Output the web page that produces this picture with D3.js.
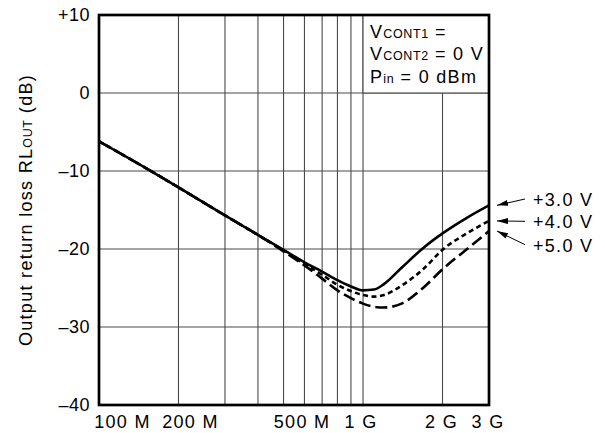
<!DOCTYPE html>
<html>
<head>
<meta charset="utf-8">
<script src="https://cdn.jsdelivr.net/npm/d3@7"></script>
<style>
  html, body { margin: 0; padding: 0; background: #fff; }
  svg { display: block; }
  text { font-family: "Liberation Sans", Arial, Helvetica, sans-serif; fill: #000; }
</style>
</head>
<body>
<svg id="chart" width="605" height="433"></svg>
<script>
// ---- data ----
const freqMHz = [100, 150, 200, 300, 400, 500, 600, 700, 800, 900, 1000, 1100, 1200, 1400, 1700, 2000, 2500, 3000];
const rl3V = [-6.2, -9.6, -12.1, -15.7, -18.2, -20.1, -21.7, -22.9, -24.0, -24.8, -25.3, -25.2, -24.5, -22.4, -19.8, -18.0, -15.9, -14.4];
const rl4V = [-6.2, -9.6, -12.1, -15.7, -18.2, -20.2, -21.9, -23.3, -24.6, -25.4, -25.9, -26.1, -25.9, -24.7, -22.5, -20.1, -17.9, -16.4];
const rl5V = [-6.2, -9.6, -12.1, -15.7, -18.2, -20.3, -22.1, -23.8, -25.3, -26.3, -27.0, -27.4, -27.5, -27.0, -24.9, -22.6, -19.9, -17.7];
const seriesLabels = ["+3.0 V", "+4.0 V", "+5.0 V"];
const xTickValues = [100, 200, 500, 1000, 2000, 3000];
const xTickLabels = ["100 M", "200 M", "500 M", "1 G", "2 G", "3 G"];
const xGridValues = [200, 300, 400, 500, 600, 700, 800, 900, 1000, 2000];
const yTickValues = [10, 0, -10, -20, -30, -40];
const yTickLabels = ["+10", "0", "\u201310", "\u201320", "\u201330", "\u201340"];

(function () {
// ---- layout ----
const svg = d3.select("#chart");
const pL = 99, pR = 489, pT = 15, pB = 405;
const x = d3.scaleLog().domain([100, 3000]).range([pL, pR]);
const y = d3.scaleLinear().domain([-40, 10]).range([pB, pT]);
const FS = 18, LS = "1.3px";

// grid
const grid = svg.append("g").attr("stroke", "#4a4a4a").attr("stroke-width", 1.1);
xGridValues.forEach(v => {
  grid.append("line").attr("x1", x(v)).attr("x2", x(v)).attr("y1", pT).attr("y2", pB);
});
yTickValues.slice(1, -1).forEach(v => {
  grid.append("line").attr("x1", pL).attr("x2", pR).attr("y1", y(v)).attr("y2", y(v));
});

// condition box (white area between 1G and right edge above 0 dB)
svg.append("rect")
  .attr("x", x(1000)).attr("y", pT)
  .attr("width", x(3000) - x(1000)).attr("height", y(0) - pT)
  .attr("fill", "#fff").attr("stroke", "#4a4a4a").attr("stroke-width", 1.1);

const box = svg.append("g").attr("font-size", FS).attr("letter-spacing", LS);
const l1 = box.append("text").attr("x", 370).attr("y", 38);
l1.append("tspan").text("V");
l1.append("tspan").attr("font-size", 12.5).attr("letter-spacing", "0.6px").text("CONT1");
l1.append("tspan").text(" =");
const l2 = box.append("text").attr("x", 370).attr("y", 60);
l2.append("tspan").text("V");
l2.append("tspan").attr("font-size", 12.5).attr("letter-spacing", "0.6px").text("CONT2");
l2.append("tspan").text(" = 0 V");
const l3 = box.append("text").attr("x", 370).attr("y", 82.5);
l3.append("tspan").text("P");
l3.append("tspan").attr("font-size", 12.5).attr("letter-spacing", "0.6px").text("in");
l3.append("tspan").text(" = 0 dBm");

// curves
const clip = svg.append("clipPath").attr("id", "clip");
clip.append("rect").attr("x", pL).attr("y", pT).attr("width", pR - pL).attr("height", pB - pT);
const line = d3.line().x(d => x(d[0])).y(d => y(d[1])).curve(d3.curveMonotoneX);
const series = [rl3V, rl4V, rl5V];
const dashes = [null, "5,3.5", "12,5"];
const curves = svg.append("g").attr("clip-path", "url(#clip)");
[2, 1, 0].forEach(i => {
  curves.append("path")
    .datum(freqMHz.map((f, k) => [f, series[i][k]]))
    .attr("d", line)
    .attr("fill", "none").attr("stroke", "#000").attr("stroke-width", 2.6)
    .attr("stroke-dasharray", dashes[i]);
});

// frame
svg.append("rect").attr("x", pL).attr("y", pT).attr("width", pR - pL).attr("height", pB - pT)
  .attr("fill", "none").attr("stroke", "#000").attr("stroke-width", 2.7);

// y tick labels
svg.append("g").attr("font-size", FS).attr("letter-spacing", "0.5px")
  .selectAll("text").data(yTickValues).join("text")
  .attr("x", 90).attr("y", d => y(d)).attr("dy", "0.35em")
  .attr("text-anchor", "end")
  .text((d, i) => yTickLabels[i]);

// x tick labels (individual horizontal nudges as in the original artwork)
const xNudge = {"100 M": 23.5, "200 M": 12, "500 M": 18.5, "1 G": -2, "2 G": -1, "3 G": -1};
svg.append("g").attr("font-size", FS).attr("letter-spacing", LS)
  .selectAll("text").data(xTickValues).join("text")
  .attr("x", (d, i) => x(d) + xNudge[xTickLabels[i]]).attr("y", 428)
  .attr("text-anchor", "middle")
  .text((d, i) => xTickLabels[i]);

// y axis title
const yt = svg.append("text")
  .attr("transform", `translate(32,${(pT + pB) / 2}) rotate(-90)`)
  .attr("text-anchor", "middle").attr("font-size", FS).attr("letter-spacing", LS);
yt.append("tspan").text("Output return loss RL");
yt.append("tspan").attr("font-size", 12.5).attr("letter-spacing", "0.6px").text("OUT");
yt.append("tspan").text(" (dB)");

// series labels with arrows
svg.append("defs").append("marker")
  .attr("id", "ah").attr("viewBox", "0 0 11 6").attr("refX", 11).attr("refY", 3)
  .attr("markerWidth", 11).attr("markerHeight", 6).attr("markerUnits", "userSpaceOnUse")
  .attr("orient", "auto")
  .append("path").attr("d", "M0,0 L11,3 L0,6 Z").attr("fill", "#000");

const labelBaselines = [206, 228.3, 251.7];
const ann = svg.append("g");
series.forEach((s, i) => {
  const endV = s[s.length - 1];
  ann.append("line")
    .attr("x1", x(3000) + 36).attr("y1", labelBaselines[i] - 7)
    .attr("x2", x(3000) + 8).attr("y2", y(endV))
    .attr("stroke", "#000").attr("stroke-width", 1)
    .attr("marker-end", "url(#ah)");
  ann.append("text")
    .attr("x", x(3000) + 44).attr("y", labelBaselines[i])
    .attr("font-size", FS).attr("letter-spacing", LS)
    .text(seriesLabels[i]);
});
})();
</script>
</body>
</html>
